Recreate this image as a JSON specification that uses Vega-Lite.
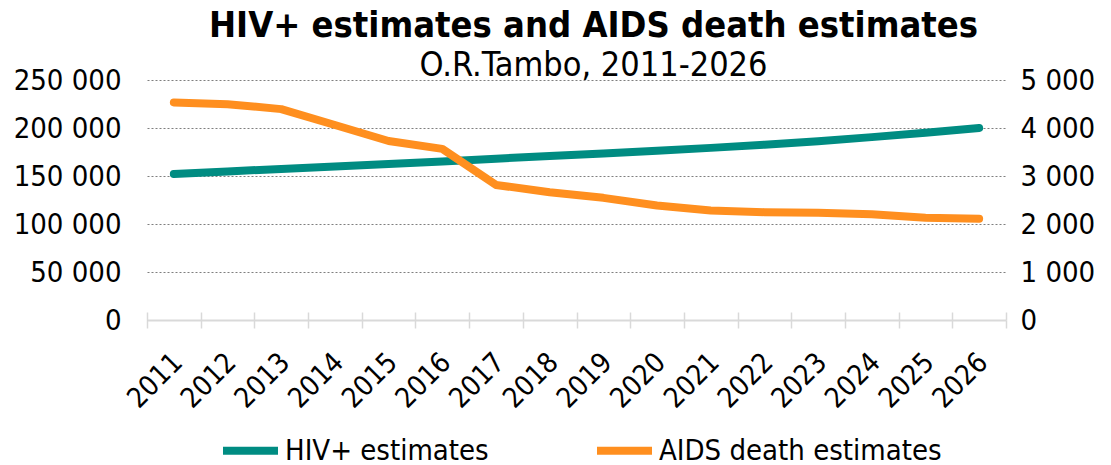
{
  "$schema": "https://vega.github.io/schema/vega-lite/v6.json",
  "width": 859,
  "height": 240,
  "padding": {"left": 13, "right": 5, "top": 8, "bottom": 0},
  "config": {
    "font": "DejaVu Sans Condensed",
    "view": {"stroke": null},
    "locale": {"number": {"decimal": ",", "thousands": " ", "grouping": [3], "currency": ["", ""]}}
  },
  "title": {
    "text": "HIV+ estimates and AIDS death estimates",
    "subtitle": "O.R.Tambo, 2011-2026",
    "font": "DejaVu Sans Condensed",
    "fontSize": 36,
    "fontWeight": "bold",
    "color": "#000000",
    "subtitleFont": "DejaVu Sans Condensed",
    "subtitleFontSize": 34,
    "subtitleColor": "#000000",
    "subtitlePadding": 4,
    "anchor": "middle",
    "dx": 17,
    "offset": -18
  },
  "data": {
    "values": [
      {"year": "2011", "hiv": 152000, "aids": 4532},
      {"year": "2012", "hiv": 154800, "aids": 4497},
      {"year": "2013", "hiv": 157400, "aids": 4393},
      {"year": "2014", "hiv": 159900, "aids": 4062},
      {"year": "2015", "hiv": 162400, "aids": 3730},
      {"year": "2016", "hiv": 165200, "aids": 3565},
      {"year": "2017", "hiv": 168000, "aids": 2814},
      {"year": "2018", "hiv": 170800, "aids": 2660},
      {"year": "2019", "hiv": 173400, "aids": 2545},
      {"year": "2020", "hiv": 176300, "aids": 2385},
      {"year": "2021", "hiv": 179300, "aids": 2282},
      {"year": "2022", "hiv": 182600, "aids": 2247},
      {"year": "2023", "hiv": 186300, "aids": 2234},
      {"year": "2024", "hiv": 190500, "aids": 2205},
      {"year": "2025", "hiv": 195000, "aids": 2130},
      {"year": "2026", "hiv": 200000, "aids": 2110}
    ]
  },
  "layer": [
    {
      "mark": {"type": "line", "strokeWidth": 8, "strokeCap": "round", "strokeJoin": "round"},
      "encoding": {
        "x": {
          "field": "year",
          "type": "ordinal",
          "scale": {"type": "band", "paddingInner": 0, "paddingOuter": 0},
          "axis": {
            "title": null,
            "orient": "bottom",
            "labelAngle": -45,
            "labelAlign": "right",
            "labelBaseline": "middle",
            "labelFontSize": 28,
            "labelColor": "#000000",
            "labelPadding": 30,
            "labelOffset": 4,
            "domainColor": "#d9d9d9",
            "domainWidth": 2,
            "tickColor": "#d9d9d9",
            "tickWidth": 1.5,
            "tickSize": 8,
            "tickBand": "extent",
            "grid": false
          }
        },
        "y": {
          "field": "hiv",
          "type": "quantitative",
          "scale": {"domain": [0, 250000]},
          "axis": {
            "title": null,
            "orient": "left",
            "values": [0, 50000, 100000, 150000, 200000, 250000],
            "format": ",d",
            "labelFontSize": 29,
            "labelColor": "#000000",
            "labelPadding": 26,
            "ticks": false,
            "domain": false,
            "grid": true,
            "gridColor": "#7f7f7f",
            "gridDash": [2, 2],
            "gridWidth": 1
          }
        },
        "color": {
          "datum": "HIV+ estimates",
          "type": "nominal",
          "scale": {"domain": ["HIV+ estimates", "AIDS death estimates"], "range": ["#008c82", "#ff8f1f"]},
          "legend": {
            "title": null,
            "orient": "none",
            "legendX": 72,
            "legendY": 339,
            "direction": "horizontal",
            "labelFontSize": 29,
            "labelColor": "#000000",
            "labelLimit": 500,
            "symbolType": "stroke",
            "symbolSize": 3025,
            "symbolStrokeWidth": 8,
            "labelOffset": 3,
            "columnPadding": 92
          }
        }
      }
    },
    {
      "mark": {"type": "line", "strokeWidth": 8, "strokeCap": "round", "strokeJoin": "round"},
      "encoding": {
        "x": {
          "field": "year",
          "type": "ordinal",
          "axis": {
            "title": null,
            "orient": "bottom",
            "offset": -8,
            "labels": false,
            "domain": false,
            "tickColor": "#d9d9d9",
            "tickWidth": 1.5,
            "tickSize": 8,
            "tickBand": "extent",
            "grid": false
          }
        },
        "y": {
          "field": "aids",
          "type": "quantitative",
          "scale": {"domain": [0, 5000]},
          "axis": {
            "title": null,
            "orient": "right",
            "values": [0, 1000, 2000, 3000, 4000, 5000],
            "format": ",d",
            "labelFontSize": 29,
            "labelColor": "#000000",
            "labelPadding": 14,
            "ticks": false,
            "domain": false,
            "grid": false
          }
        },
        "color": {"datum": "AIDS death estimates", "type": "nominal"}
      }
    }
  ],
  "resolve": {"scale": {"y": "independent"}, "axis": {"x": "independent"}}
}
